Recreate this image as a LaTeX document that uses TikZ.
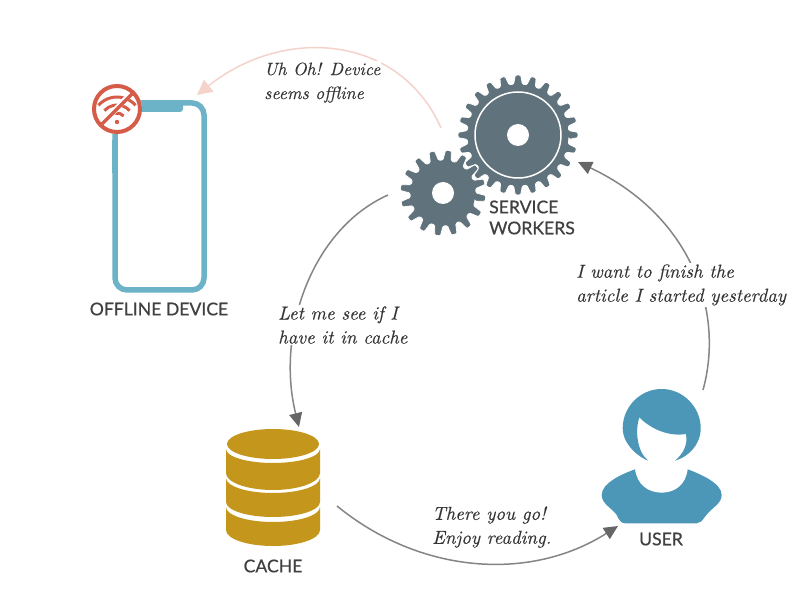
\documentclass[tikz,border=0pt]{standalone}
\usepackage{fontspec}
\usetikzlibrary{arrows.meta,calc}
\newfontfamily\labelfont{Lato}[FakeBold=0.6]
\newfontfamily\notefont{lmroman10-italic.otf}[FakeBold=0.25]
\definecolor{gearcol}{HTML}{60727C}
\definecolor{phonecol}{HTML}{6CB3C7}
\definecolor{offcol}{HTML}{D65C4A}
\definecolor{cachecol}{HTML}{C4971C}
\definecolor{usercol}{HTML}{4C96B8}
\definecolor{textcol}{HTML}{404040}
\definecolor{pinkcol}{HTML}{F5D2CA}
\definecolor{arccol}{HTML}{858585}
\definecolor{tipcol}{HTML}{666666}
\tikzset{
  label/.style={font=\labelfont\fontsize{17.6}{21}\selectfont,text=textcol,inner sep=0pt},
  note/.style={font=\notefont\fontsize{18.8}{24}\selectfont,text=textcol!85!black,fill=white,align=left,anchor=west,inner sep=1pt},
  arc/.style={draw=arccol,line width=1.5pt,-{Triangle[length=14pt,width=13pt,color=tipcol]}},
  pinkarc/.style={draw=pinkcol,line width=1.5pt,-{Triangle[length=15pt,width=15pt,color=pinkcol]}},
}
% x, y, teeth, tip radius, root radius, phase
\newcommand{\gearwheel}[6]{
\begin{scope}[shift={(#1,#2)},rotate=#6]
\pgfmathsetmacro{\pitch}{360/#3}
\fill[gearcol,draw=white,line width=0.8pt,rounded corners=1.2pt] (-0.33*\pitch:#5pt)
  \foreach \i in {1,...,#3} {
    -- ({(\i-1.17)*\pitch}:#4pt) -- ({(\i-0.83)*\pitch}:#4pt)
    -- ({(\i-0.67)*\pitch}:#5pt) -- ({(\i-0.33)*\pitch}:#5pt)
  } -- cycle;
\end{scope}
}
\begin{document}
\begin{tikzpicture}[x=1pt,y=1pt]
\useasboundingbox (0,0) rectangle (800,600);
\fill[white] (0,0) rectangle (800,600);
% arcs
\coordinate (gearTop) at (441,472);
\coordinate (phoneTip) at (197,505);
\coordinate (gearLeft) at (388,405);
\coordinate (cacheTip) at (299,173);
\coordinate (cacheRight) at (337,94);
\coordinate (userTip) at (618,74);
\coordinate (userTop) at (703,210);
\coordinate (gearTip) at (578,438);
\draw[pinkarc] (gearTop) .. controls (400,565) and (285,575) .. (phoneTip);
\draw[arc] (gearLeft) .. controls (310,370) and (276,265) .. (cacheTip);
\draw[arc] (cacheRight) .. controls (420,26) and (530,18) .. (userTip);
\draw[arc] (userTop) .. controls (725,290) and (690,385) .. (gearTip);
% gears
\gearwheel{443}{407}{16}{43}{33}{-7.3}
\gearwheel{518}{465}{24}{60}{51}{0}
\draw[white,line width=1.5pt] (518,465) circle[radius=43pt];
\fill[white] (518,465) circle[radius=11pt];
\fill[white] (443,407) circle[radius=11pt];
% phone
\draw[phonecol,line width=5.5pt,rounded corners=12pt] (115,497) rectangle (204,310);
\fill[phonecol,rounded corners=3pt] (125,499) -- (183,499) -- (183,488) -- (125,488) -- cycle;
\draw[phonecol,line width=1.5pt] (112.5,460) -- (112.5,427);
\draw[phonecol,line width=1.5pt] (206.5,457) -- (206.5,443);
% no wifi
\coordinate (wifi) at (117,491);
\fill[white] (wifi) circle[radius=25pt];
\foreach \r in {9,17,25} {
  \draw[offcol,line width=3pt] ($(wifi)+(0,-13)+(42:\r pt)$) arc[start angle=42,end angle=138,radius=\r pt];
}
\fill[offcol] ($(wifi)+(0,-13)$) circle[radius=2.2pt];
\draw[white,line width=5.5pt] (134,510) -- (101,475);
\draw[offcol,line width=3.5pt] (133,507) -- (102,476);
\draw[offcol,line width=4pt] (wifi) circle[radius=23pt];
% cache
\fill[cachecol] (273,156) ellipse[x radius=46pt,y radius=15pt];
\fill[cachecol] (226,151) arc[start angle=180,end angle=360,x radius=47pt,y radius=14pt] -- (320,127) arc[start angle=0,end angle=-180,x radius=47pt,y radius=17pt] -- cycle;
\fill[cachecol] (226,122) arc[start angle=180,end angle=360,x radius=47pt,y radius=15pt] -- (320,98) arc[start angle=0,end angle=-180,x radius=47pt,y radius=15pt] -- cycle;
\fill[cachecol] (226,93) arc[start angle=180,end angle=360,x radius=47pt,y radius=15pt] -- (320,70) arc[start angle=0,end angle=-180,x radius=47pt,y radius=16pt] -- cycle;
% user
\fill[usercol] (648.3,139.3) .. controls (640,142) and (622.7,155) .. (622.7,171.7)
  .. controls (622.7,193) and (640,211) .. (661.7,211)
  .. controls (683,211) and (700.7,193) .. (700.7,171.7)
  .. controls (700.7,155) and (688,143) .. (675,139.3)
  .. controls (683,146) and (688,155) .. (686,166)
  .. controls (670,163.3) and (651.7,170) .. (639.3,182.7)
  .. controls (635,170) and (636.7,148.3) .. cycle;
\fill[usercol] (635,130.7) .. controls (637,115) and (648,107.3) .. (661.7,107.3)
  .. controls (675,107.3) and (686,115) .. (687.7,130.7)
  .. controls (700,126) and (721.7,117) .. (721.7,105)
  .. controls (721.7,96) and (711,92) .. (705,83.3)
  .. controls (702,79) and (700,76.7) .. (696.7,76.7)
  -- (625,76.7)
  .. controls (621,76.7) and (619,80) .. (616.7,85)
  .. controls (612,92) and (601.7,96) .. (601.7,105)
  .. controls (601.7,117) and (622,126) .. cycle;
% labels
\node[label] (phoneLabel) at (159,291) {OFFLINE DEVICE};
\node[label,align=left,anchor=west] (gearLabel) at (489,382.5) {SERVICE\\WORKERS};
\node[label] (cacheLabel) at (273,34) {CACHE};
\node[label] (userLabel) at (661,61) {USER};
% notes
\node[note,font=\notefont\fontsize{17.8}{24}\selectfont] (offNote) at (263,517.5) {Uh Oh! Device\\seems offline};
\node[note] (seeNote) at (277,275) {Let me see if I\\have it in cache};
\node[note] (goNote) at (431,73) {There you go!\\Enjoy reading.};
\node[note] (wantNote) at (575,315) {I want to finish the\\article I started yesterday};
\end{tikzpicture}
\end{document}
